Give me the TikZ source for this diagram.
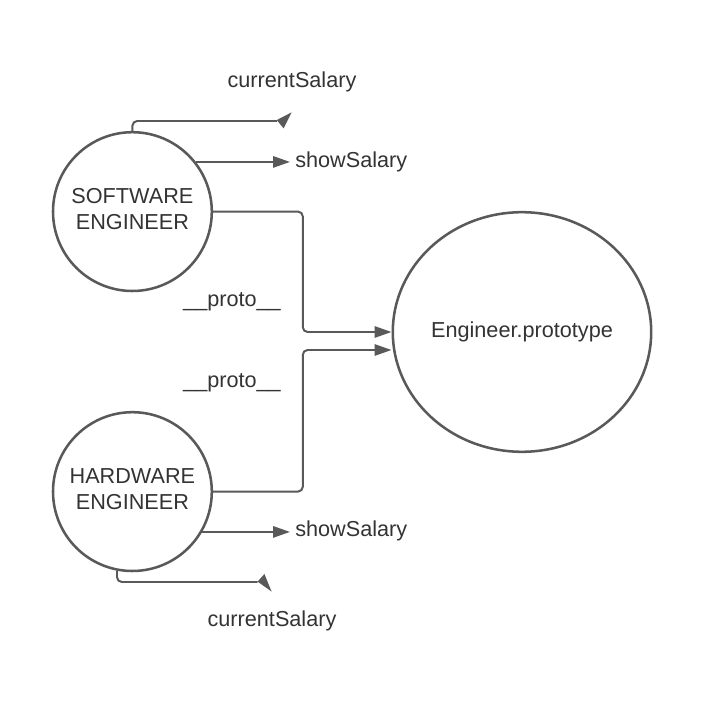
\documentclass[tikz,border=0pt]{standalone}
\usepackage{fontspec}
\setmainfont{Liberation Sans}
\usepackage{tikz}
\usetikzlibrary{arrows.meta}
\usetikzlibrary{shapes.geometric}
\definecolor{linegray}{HTML}{595959}
\definecolor{textgray}{HTML}{333333}
\tikzstyle{line} = [draw=linegray, -{Triangle[length=12pt,width=8pt]}, line width=1.4pt, rounded corners=0.12cm]
\tikzstyle{engineer} = [circle, draw=linegray, line width=1.8pt, minimum size=3.97cm, inner sep=0pt, align=center]
\tikzstyle{msg} = [inner sep=0.125cm]

\begin{document}
\begin{tikzpicture}
	\tikzstyle{every node}=[font=\fontsize{15.4pt}{18.6pt}\selectfont, text=textgray]
	\useasboundingbox (0,0) rectangle (17.6,17.6);
	
	\node[engineer] (sw) at (3.31,12.31) {SOFTWARE\\ENGINEER\rule[-0.12cm]{0pt}{0.12cm}};
	\node[engineer] (hw) at (3.31,5.31) {HARDWARE\\ENGINEER\rule[-0.12cm]{0pt}{0.12cm}};
	\node[ellipse, draw=linegray, line width=1.8pt, inner sep=0pt, minimum width=6.46cm, minimum height=5.99cm] (proto) at (13.05,9.3) {\makebox[0pt]{Engineer.prototype}};
	
	% ------------------- Labels ------------------- %
	\node[msg, anchor=base] (swcsl) at (7.3,15.4) {currentSalary};
	\node[msg, anchor=base west] (sws) at (7.25,13.4) {showSalary};
	\node[msg, anchor=base] (swp) at (5.8,9.93) {\_\_proto\_\_};
	\node[msg, anchor=base] (hwp) at (5.8,7.92) {\_\_proto\_\_};
	\node[msg, anchor=base west] (hws) at (7.25,4.175) {showSalary};
	\node[msg, anchor=base] (hwcsl) at (6.8,1.93) {currentSalary};
	
	\coordinate (swcs) at (6.93,14.575);
	\coordinate (hwcs) at (6.44,3.05);
	\coordinate (swturn) at (7.57,9.3);
	\coordinate (hwturn) at (7.57,8.85);
	
	% ------------------- Software engineer ------------------- %
	\draw[line, -] (sw.north) |- (swcs);
	\fill[linegray] (swcs) ++(-0.01,0.025) -- ++(0.37,0.19) -- ++(-0.2,-0.4) -- cycle;
	\draw[line] (sw.38) -- (sw.38 -| sws.west);
	\draw[line] (sw.east) -| (swturn) -- (proto.west);
	
	% ------------------- Hardware engineer ------------------- %
	\draw[line] (hw.east) -| (hwturn) -- (proto.west |- hwturn);
	\draw[line] (hw.-30) -- (hw.-30 -| hws.west);
	\draw[line, -] (hw.259) |- (hwcs);
	\fill[linegray] (hwcs) ++(0,0.01) -- ++(0.17,0.19) -- ++(0.18,-0.44) -- cycle;
	
\end{tikzpicture}
\end{document}
